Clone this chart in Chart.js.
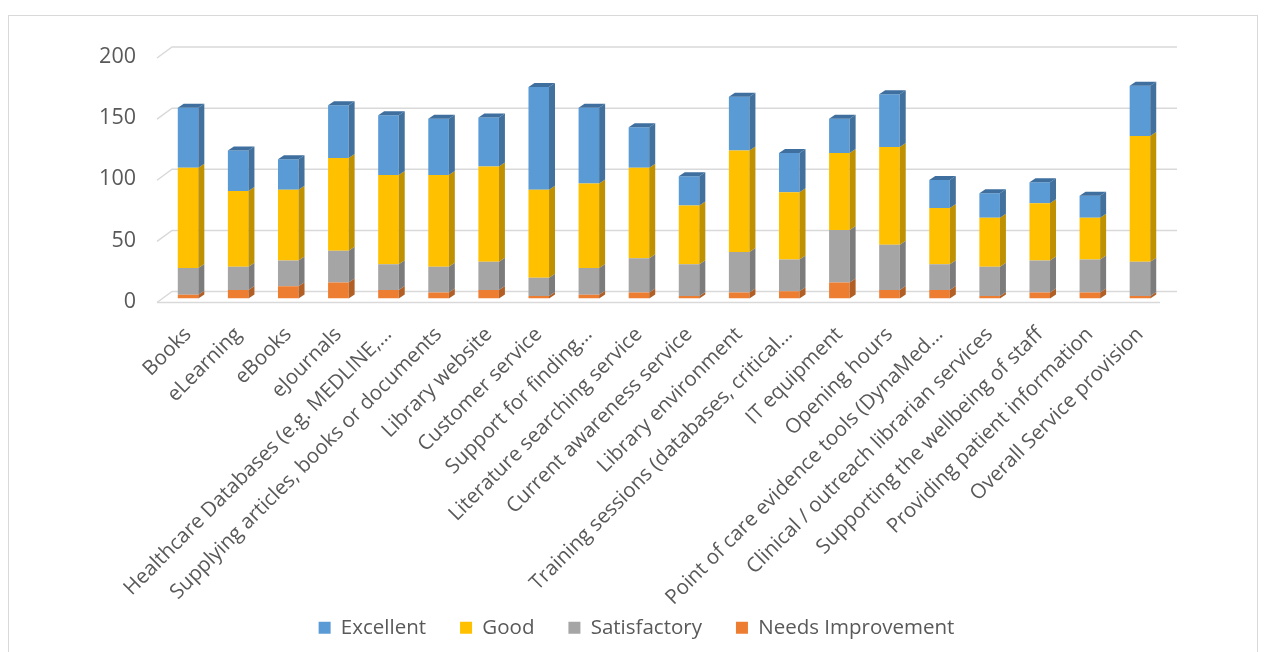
<!DOCTYPE html>
<html>
<head>
<meta charset="utf-8">
<script src="https://cdn.jsdelivr.net/npm/chart.js@4/dist/chart.umd.min.js"></script>
<style>
  body { margin: 0; background: #fff; }
  #frame { position: absolute; left: 8px; top: 15px; width: 1248px; height: 640px; border: 1px solid #d9d9d9; }
  canvas { position: absolute; left: 0; top: 0; }
</style>
</head>
<body>
<div id="frame"></div>
<canvas id="myChart" width="1265" height="652"></canvas>
<script>
const categories = [
  "Books", "eLearning", "eBooks", "eJournals",
  "Healthcare Databases (e.g. MEDLINE,…",
  "Supplying articles, books or documents",
  "Library website", "Customer service", "Support for finding…",
  "Literature searching service", "Current awareness service",
  "Library environment", "Training sessions (databases, critical…",
  "IT equipment", "Opening hours", "Point of care evidence tools (DynaMed…",
  "Clinical / outreach librarian services", "Supporting the wellbeing of staff",
  "Providing patient information", "Overall Service provision"
];
const needsImprovement = [3, 7, 10, 13, 7, 5, 7, 2, 3, 5, 2, 5, 6, 13, 7, 7, 2, 5, 5, 2];
const satisfactory = [22, 19, 21, 26, 21, 21, 23, 15, 22, 28, 26, 33, 26, 43, 37, 21, 24, 26, 27, 28];
const good = [82, 62, 58, 76, 73, 75, 78, 72, 69, 74, 48, 83, 55, 63, 80, 46, 40, 47, 34, 103];
const excellent = [49, 33, 25, 43, 49, 46, 40, 84, 62, 33, 24, 44, 32, 28, 43, 23, 20, 17, 18, 41];
const yTicks = [0, 50, 100, 150, 200];

const sideColors = ["#b25f25", "#7c7c7c", "#bf9000", "#41719c"];
const capColor = "#3f6f9e";
const depthX = 6, depthY = 4;

// draws the back-wall gridlines a bit behind the bars
const backGrid = {
  id: 'backGrid',
  beforeDatasetsDraw(chart) {
    const ctx = chart.ctx;
    const area = chart.chartArea;
    const y = chart.scales.y;
    ctx.save();
    ctx.strokeStyle = '#d9d9d9';
    ctx.lineWidth = 1.5;
    yTicks.forEach(v => {
      const p = y.getPixelForValue(v);
      ctx.beginPath();
      ctx.moveTo(area.left - 6, p + 4);
      ctx.lineTo(area.left + 9, p - 7);
      ctx.lineTo(area.right + 12, p - 7);
      ctx.stroke();
    });
    const p0 = y.getPixelForValue(0);
    ctx.beginPath();
    ctx.moveTo(area.left - 6, p0 + 4);
    ctx.lineTo(area.right - 5, p0 + 4);
    ctx.stroke();
    ctx.restore();
  }
};

// side faces and top cap for the 3D look
const bars3d = {
  id: 'bars3d',
  afterDatasetsDraw(chart) {
    const ctx = chart.ctx;
    const last = chart.data.datasets.length - 1;
    ctx.save();
    chart.data.datasets.forEach((ds, i) => {
      const meta = chart.getDatasetMeta(i);
      meta.data.forEach(el => {
        const left = el.x - el.width / 2;
        const right = el.x + el.width / 2;
        const top = Math.min(el.y, el.base);
        const bottom = Math.max(el.y, el.base);
        ctx.fillStyle = sideColors[i];
        ctx.beginPath();
        ctx.moveTo(right, top);
        ctx.lineTo(right + depthX, top - depthY);
        ctx.lineTo(right + depthX, bottom - depthY);
        ctx.lineTo(right, bottom);
        ctx.closePath();
        ctx.fill();
        if (i === last) {
          ctx.fillStyle = capColor;
          ctx.beginPath();
          ctx.moveTo(left, top);
          ctx.lineTo(left + depthX, top - depthY);
          ctx.lineTo(right + depthX, top - depthY);
          ctx.lineTo(right, top);
          ctx.closePath();
          ctx.fill();
        }
      });
    });
    ctx.restore();
  }
};

// let the long x labels run past the scale box (no clipping) and nudge the legend right
const layoutFix = {
  id: 'layoutFix',
  afterLayout(chart) {
    chart.scales.x.bottom = chart.height;
    chart.legend.left += 54;
    chart.legend.right += 54;
  }
};

const chartDOM = document.getElementById('myChart');
const myChart = new Chart(chartDOM, {
  type: 'bar',
  data: {
    labels: categories,
    datasets: [
      { label: 'Needs Improvement', data: needsImprovement, backgroundColor: '#ed7d31' },
      { label: 'Satisfactory', data: satisfactory, backgroundColor: '#a5a5a5' },
      { label: 'Good', data: good, backgroundColor: '#ffc000' },
      { label: 'Excellent', data: excellent, backgroundColor: '#5b9bd5' }
    ]
  },
  options: {
    responsive: false,
    animation: false,
    layout: { padding: { top: 54, left: 0, right: 100, bottom: 4 } },
    datasets: { bar: { barPercentage: 0.41, categoryPercentage: 1 } },
    plugins: {
      tooltip: { enabled: false },
      legend: {
        position: 'bottom',
        reverse: true,
        labels: {
          boxWidth: 12, boxHeight: 12, padding: 34,
          color: '#595959',
          font: { family: 'Open Sans', size: 20.5 }
        }
      }
    },
    scales: {
      x: {
        stacked: true,
        grid: { display: false },
        border: { display: false },
        afterFit(scale) { scale.height = 285; },
        ticks: {
          autoSkip: false, maxRotation: 45, minRotation: 45,
          color: '#595959', padding: 16,
          font: { family: 'Open Sans', size: 20.5 }
        }
      },
      y: {
        stacked: true,
        min: 0, max: 200,
        afterFit(scale) { scale.width = 163; },
        afterBuildTicks(scale) { scale.ticks = yTicks.map(v => ({ value: v })); },
        grid: { display: false },
        border: { display: false },
        ticks: {
          padding: 19,
          labelOffset: 3,
          color: '#595959',
          font: { family: 'Open Sans', size: 21.5 }
        }
      }
    }
  },
  plugins: [backGrid, bars3d, layoutFix]
});
</script>
</body>
</html>
